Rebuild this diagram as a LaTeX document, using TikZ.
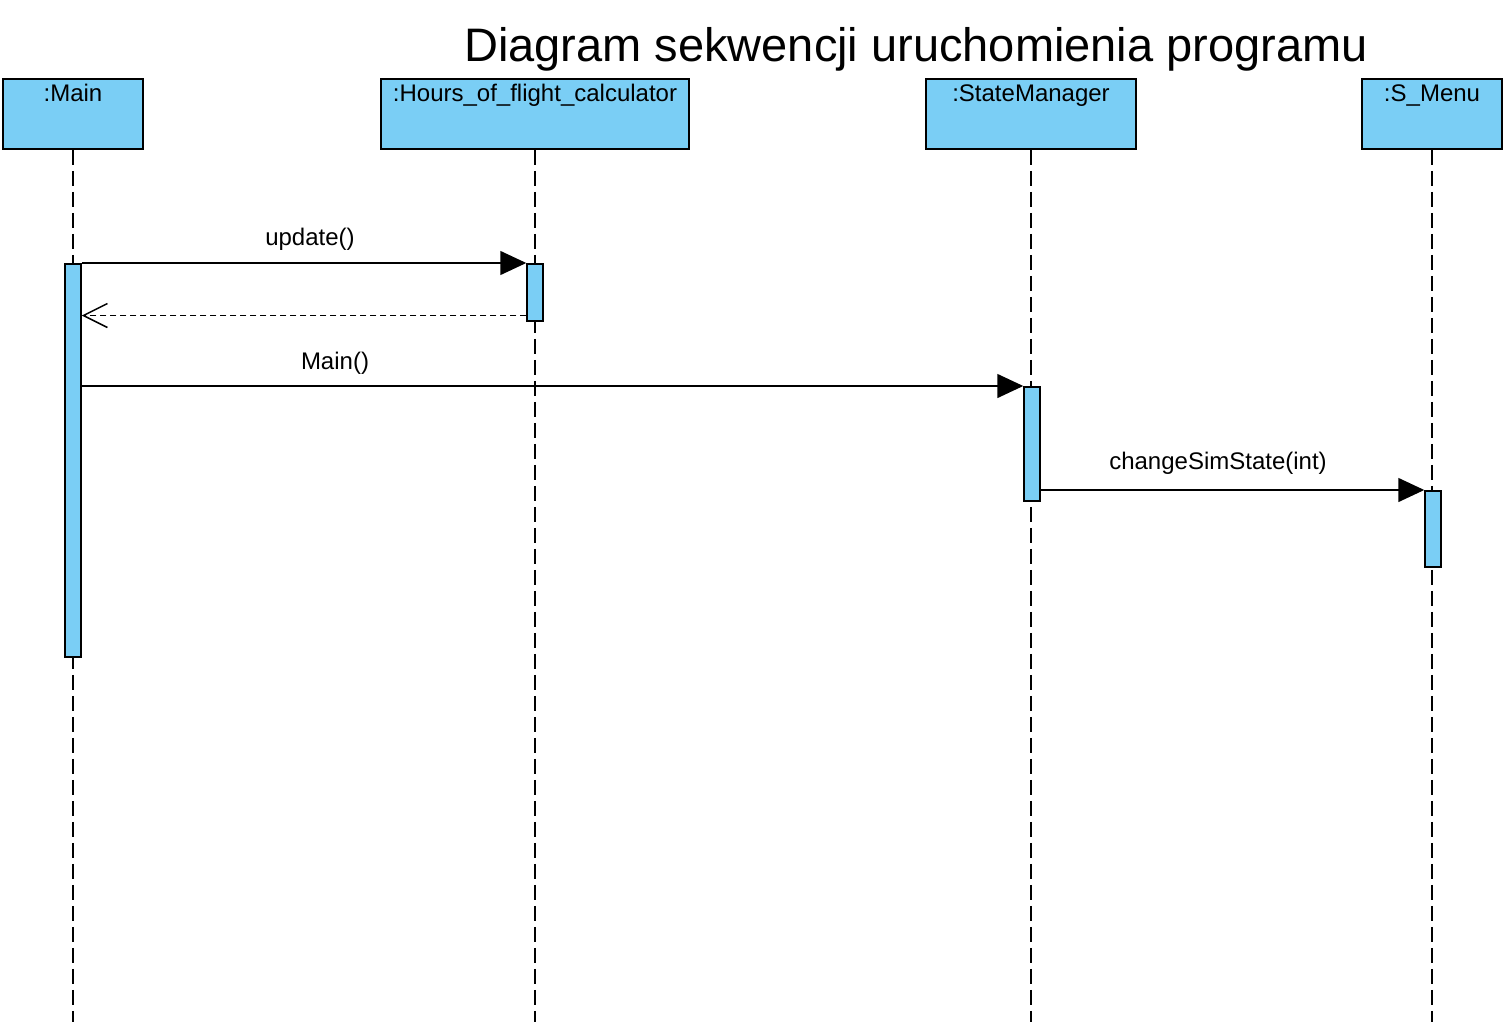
\documentclass[tikz,border=0pt]{standalone}
\usepackage{fontspec}
\setmainfont{Liberation Sans}
\usetikzlibrary{arrows.meta}
\definecolor{objblue}{RGB}{122,206,245}
\tikzset{
  objbox/.style={draw, line width=1.8pt, fill=objblue, minimum width=#1, minimum height=70pt, inner sep=0pt},
  objname/.style={anchor=base, inner sep=0pt, font=\fontsize{24}{24}\selectfont},
  actbar/.style={draw, line width=1.5pt, fill=objblue, minimum width=16pt, minimum height=#1, inner sep=0pt, anchor=north},
  lifeline/.style={line width=1.5pt, dash pattern=on 15pt off 6pt},
  callmsg/.style={line width=1.5pt, -{Triangle[length=26pt,width=24pt]}},
  retmsg/.style={line width=1.5pt, dash pattern=on 6pt off 4pt, -{Straight Barb[length=24pt,width=24pt,line width=1.5pt]}},
  msgname/.style={anchor=base, inner sep=0pt, font=\fontsize{24}{24}\selectfont}
}
\begin{document}
\begin{tikzpicture}[x=1pt,y=-1pt]
\useasboundingbox (0,0) rectangle (1506,1022);

\node[anchor=base, inner sep=0pt, font=\fontsize{47}{47}\selectfont] (title) at (916,62) {Diagram sekwencji uruchomienia programu};

% obiekty
\node[objbox=140pt] (main) at (73,114) {};
\node[objbox=308pt] (hours) at (535,114) {};
\node[objbox=210pt] (sm) at (1031,114) {};
\node[objbox=140pt] (menu) at (1432,114) {};

\node[objname] (main-t) at (73,102) {:Main};
\node[objname] (hours-t) at (535,102) {:Hours\_of\_flight\_calculator};
\node[objname] (sm-t) at (1031,102) {:StateManager};
\node[objname] (menu-t) at (1432,102) {:S\_Menu};

% linie zycia
\coordinate (main-end) at (73,1022);
\coordinate (hours-end) at (535,1022);
\coordinate (sm-end) at (1031,1022);
\coordinate (menu-end) at (1432,1022);
\draw[lifeline] (main.south) -- (main-end);
\draw[lifeline] (hours.south) -- (hours-end);
\draw[lifeline] (sm.south) -- (sm-end);
\draw[lifeline] (menu.south) -- (menu-end);

% aktywacje
\node[actbar=393pt] (act-main) at (73,263) {};
\node[actbar=57pt] (act-hours) at (535,263) {};
\node[actbar=114pt] (act-sm) at (1032,386) {};
\node[actbar=76pt] (act-menu) at (1433,490) {};

% komunikaty
\coordinate (ret-start) at ([yshift=6pt]act-hours.south west);
\draw[callmsg] (act-main.north east) -- (act-hours.north west);
\draw[retmsg] (ret-start) -- (ret-start -| act-main.east);
\draw[callmsg] (act-sm.north west -| act-main.east) -- (act-sm.north west);
\draw[callmsg] (act-menu.north west -| act-sm.east) -- (act-menu.north west);

\node[msgname] (update-t) at (310,245) {update()};
\node[msgname] (mainc-t) at (335,369) {Main()};
\node[msgname] (change-t) at (1218,469) {changeSimState(int)};
\end{tikzpicture}
\end{document}
